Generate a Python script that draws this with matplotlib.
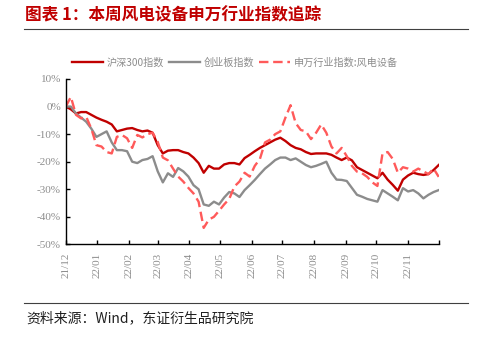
import numpy as np
import pandas as pd
import matplotlib
matplotlib.use('Agg')
import matplotlib.pyplot as plt
import matplotlib.dates as mdates
from matplotlib.ticker import FuncFormatter

plt.rcParams['font.family'] = ['Noto Sans CJK SC', 'DejaVu Sans']

# 5-day sampled points, 2021-12-01 .. 2022-12-01
dates = pd.date_range('2021-12-01', periods=74, freq='5D')

hs300 = [0, -1.0, -2.5, -2.0, -2.0, -3.0, -4.0, -4.8, -5.5, -6.5,
         -9.0, -8.5, -8.0, -7.8, -8.5, -9.0, -8.7, -9.5, -14.0, -17.0,
         -16.0, -15.8, -15.8, -16.5, -17.0, -18.5, -20.5, -24.0, -21.5, -22.5,
         -22.5, -21.0, -20.5, -20.5, -21.0, -18.7, -17.5, -16.2, -15.0, -14.0,
         -13.0, -12.0, -11.3, -12.5, -14.0, -15.0, -15.5, -16.5, -17.2, -17.0,
         -17.0, -17.0, -17.5, -18.5, -19.4, -18.5, -19.5, -22.0, -23.0, -24.0,
         -25.0, -26.0, -24.0, -26.5, -28.4, -30.5, -26.5, -25.0, -24.0, -24.5,
         -24.8, -24.5, -23.0, -21.2]

cyb = [0, 0, -2.5, -4.0, -5.5, -8.0, -11.0, -10.0, -9.0, -13.0,
       -15.8, -15.8, -16.2, -20.0, -20.5, -19.4, -19.0, -18.0, -23.5, -27.5,
       -24.2, -25.5, -22.3, -23.5, -25.4, -28.5, -30.0, -35.5, -36.0, -34.5,
       -35.5, -33.0, -31.0, -31.5, -32.8, -30.3, -28.5, -26.6, -24.5, -22.5,
       -21.0, -19.4, -18.5, -18.5, -19.4, -18.8, -20.0, -21.2, -22.0, -21.5,
       -20.8, -20.0, -24.0, -26.5, -26.6, -27.0, -29.5, -32.0, -32.7, -33.5,
       -34.0, -34.5, -30.3, -31.5, -32.7, -34.0, -29.6, -30.8, -30.3, -31.5,
       -33.3, -32.0, -31.0, -30.3]

wind = [0, 3.5, -3.0, -4.3, -3.7, -8.0, -14.0, -14.5, -16.5, -17.0,
        -11.0, -10.3, -11.5, -15.0, -10.3, -11.2, -10.0, -9.5, -12.8, -18.5,
        -19.5, -22.5, -25.4, -27.2, -29.5, -31.5, -34.5, -44.0, -41.0, -40.0,
        -37.8, -35.5, -33.5, -29.0, -27.2, -24.0, -25.4, -21.5, -19.0, -13.0,
        -12.0, -10.0, -9.0, -4.0, 0.5, -6.0, -8.5, -9.0, -11.8, -9.5,
        -6.5, -9.5, -14.5, -17.0, -15.0, -18.0, -21.5, -23.6, -24.2, -25.5,
        -27.5, -28.8, -17.0, -16.5, -19.0, -24.0, -22.0, -22.5, -23.6, -22.5,
        -23.5, -24.5, -22.5, -25.5]

labels = ['沪深300指数', '创业板指数', '申万行业指数:风电设备']

fig = plt.figure(figsize=(4.8, 3.39), dpi=100)
ax = fig.add_axes([0.137, 0.279, 0.777, 0.488])

ax.plot(dates, hs300, '-', color='#C00000', lw=1.7, label=labels[0])
ax.plot(dates, cyb, '-', color='#8C8C8C', lw=1.7, label=labels[1])
ax.plot(dates, wind, '--', color='#FF5A5A', lw=1.7, dashes=(4, 2), label=labels[2])

ax.set_xlim(pd.Timestamp('2021-12-01'), pd.Timestamp('2022-12-01'))
ax.set_ylim(-50, 10)
ax.set_yticks(np.arange(-50, 11, 10))
ax.yaxis.set_major_formatter(FuncFormatter(lambda v, p: '%d%%' % v))
# last tick (22/12) has no label in the reference
ticks = list(pd.date_range('2021-12-01', '2022-12-01', freq='MS'))
ax.set_xticks(ticks)
ax.set_xticklabels([t.strftime('%y/%m') for t in ticks[:-1]] + [''])

for s in ['top', 'right']:
    ax.spines[s].set_visible(False)
for s in ['left', 'bottom']:
    ax.spines[s].set_color('black')
    ax.spines[s].set_linewidth(1.0)
ax.tick_params(direction='in', length=3, color='black', width=1.0,
               labelcolor='#8C8C8C', labelsize=8)
for t in ax.get_xticklabels() + ax.get_yticklabels():
    t.set_fontfamily('Liberation Serif')
for t in ax.get_xticklabels():
    t.set_rotation(90)
ax.tick_params(axis='x', pad=6)

leg = fig.legend(loc='center', bbox_to_anchor=(0.49, 0.815), ncol=3, frameon=False,
                 fontsize=7.3, handlelength=3.0, columnspacing=0.5, handletextpad=0.4)
for t in leg.get_texts():
    t.set_color('#8C8C8C')

fig.text(0.052, 0.955, '图表 1：本周风电设备申万行业指数追踪', fontsize=12,
         fontweight='bold', color='#C00000', va='center', ha='left')
fig.add_artist(plt.Line2D([0.05, 0.975], [0.913, 0.913], color='#404040', lw=0.8))
fig.add_artist(plt.Line2D([0.05, 0.975], [0.107, 0.107], color='#404040', lw=0.8))
fig.text(0.054, 0.062, '资料来源：Wind，东证衍生品研究院', fontsize=10,
         color='#202020', va='center', ha='left')

fig.savefig('out.png', dpi=100)
